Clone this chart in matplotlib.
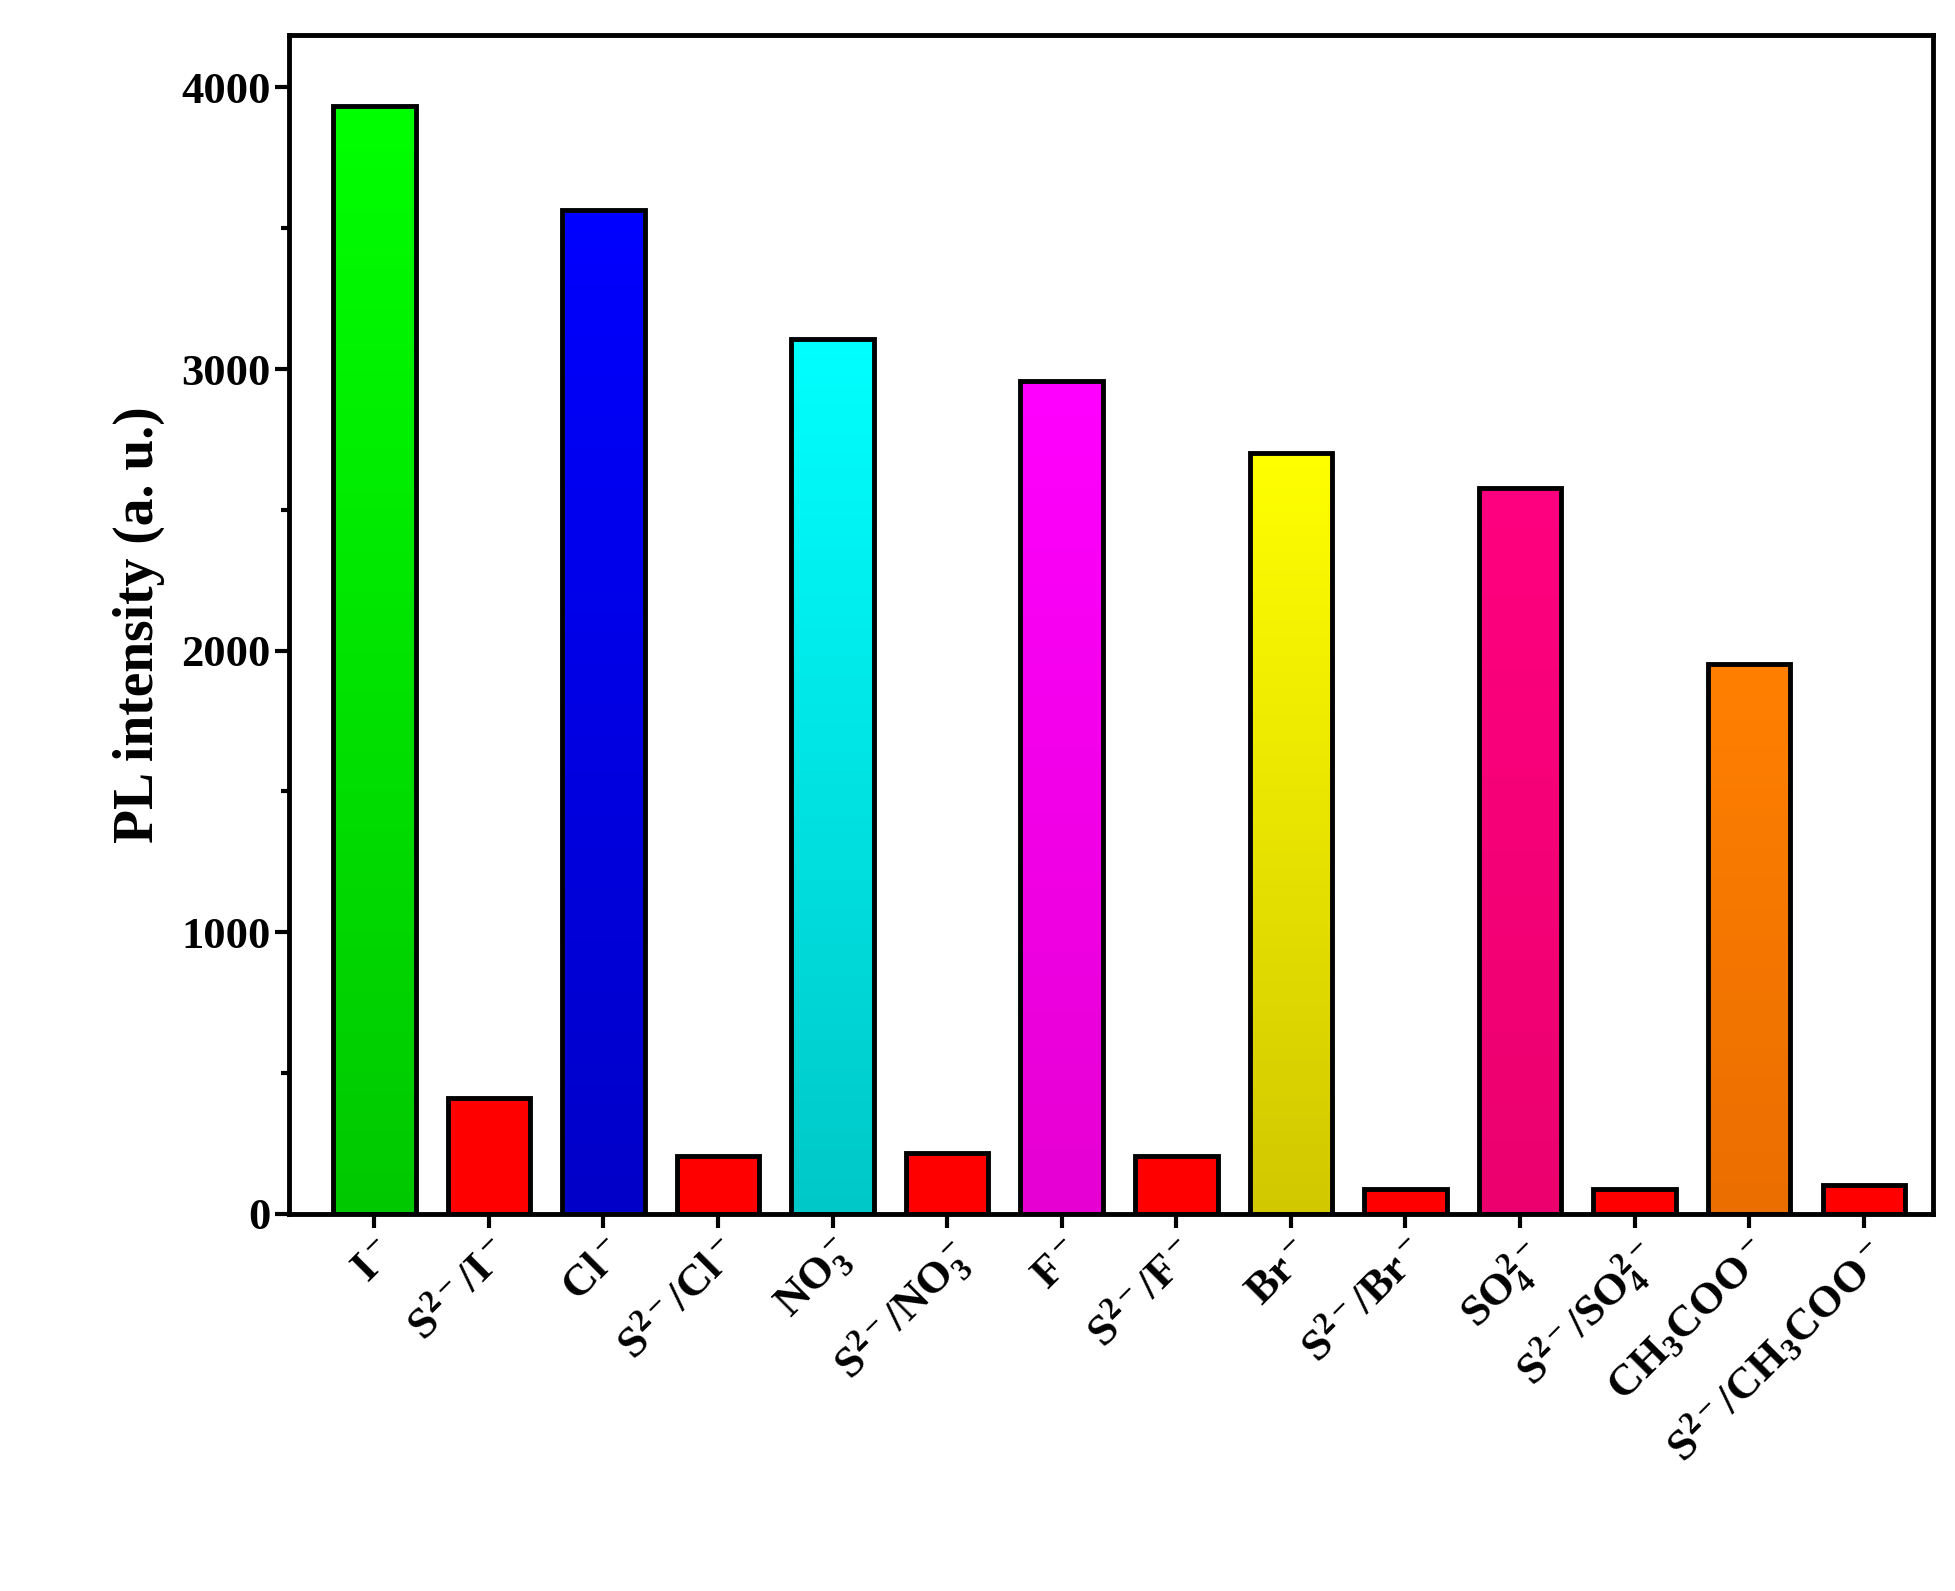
import matplotlib.pyplot as plt
import numpy as np
from matplotlib.ticker import MultipleLocator

plt.rcParams["font.family"] = "Liberation Serif"
plt.rcParams["font.weight"] = "bold"
plt.rcParams["mathtext.fontset"] = "custom"
plt.rcParams["mathtext.rm"] = "Liberation Serif:bold"
plt.rcParams["mathtext.it"] = "Liberation Serif:bold"
plt.rcParams["mathtext.bf"] = "Liberation Serif:bold"

labels = [
    r"$\mathregular{I^-}$", r"$\mathregular{S^{2-}/I^-}$",
    r"$\mathregular{Cl^-}$", r"$\mathregular{S^{2-}/Cl^-}$",
    r"$\mathregular{NO_3^-}$", r"$\mathregular{S^{2-}/NO_3^-}$",
    r"$\mathregular{F^-}$", r"$\mathregular{S^{2-}/F^-}$",
    r"$\mathregular{Br^-}$", r"$\mathregular{S^{2-}/Br^-}$",
    r"$\mathregular{SO_4^{2-}}$", r"$\mathregular{S^{2-}/SO_4^{2-}}$",
    r"$\mathregular{CH_3COO^-}$", r"$\mathregular{S^{2-}/CH_3COO^-}$",
]
values = [3934, 412, 3566, 204, 3105, 217, 2959, 204, 2702, 89, 2578, 89, 1953, 102]
# (top colour, bottom colour) for each bar's vertical gradient
top_colors = ["#00ff00", "#ff0000", "#0000ff", "#ff0000", "#00ffff", "#ff0000", "#ff00ff",
              "#ff0000", "#ffff00", "#ff0000", "#ff0080", "#ff0000", "#ff8000", "#ff0000"]
bottom_colors = ["#00c800", "#ff0000", "#0000c8", "#ff0000", "#00c8c8", "#ff0000", "#e600d2",
                 "#ff0000", "#d2c800", "#ff0000", "#eb006e", "#ff0000", "#eb6e00", "#ff0000"]


def hex_rgb(h):
    return np.array([int(h[i:i + 2], 16) for i in (1, 3, 5)]) / 255.0


fig = plt.figure(figsize=(19.56, 15.91), dpi=100)
ax = fig.add_axes([0.148, 0.237, 0.84, 0.741])

width = 0.72
x = np.arange(len(values))
for xi, v, tc, bc in zip(x, values, top_colors, bottom_colors):
    t = np.linspace(0, 1, 256)[:, None]
    grad = hex_rgb(bc)[None, :] * (1 - t) + hex_rgb(tc)[None, :] * t
    ax.imshow(grad[:, None, :], extent=[xi - width / 2, xi + width / 2, 0, v],
              origin="lower", aspect="auto", zorder=2)
    ax.bar(xi, v, width=width, facecolor="none", edgecolor="black", linewidth=3.5, zorder=3)

ax.set_xlim(-0.74, 13.6)
ax.set_ylim(0, 4186)
ax.yaxis.set_major_locator(MultipleLocator(1000))
ax.yaxis.set_minor_locator(MultipleLocator(500))
ax.set_xticks(x)
ax.set_xticklabels(labels, rotation=45, ha="right", rotation_mode="anchor", fontsize=32)
ax.tick_params(axis="both", which="major", direction="out", length=10, width=3, labelsize=32)
ax.tick_params(axis="y", which="minor", direction="out", length=6, width=3)
for lab in ax.get_yticklabels():
    lab.set_fontweight("bold")
for s in ax.spines.values():
    s.set_linewidth(3.5)
ax.set_ylabel("PL intensity (a. u.)", fontsize=40, fontweight="bold", labelpad=12)

fig.savefig("out.png", dpi=100)
